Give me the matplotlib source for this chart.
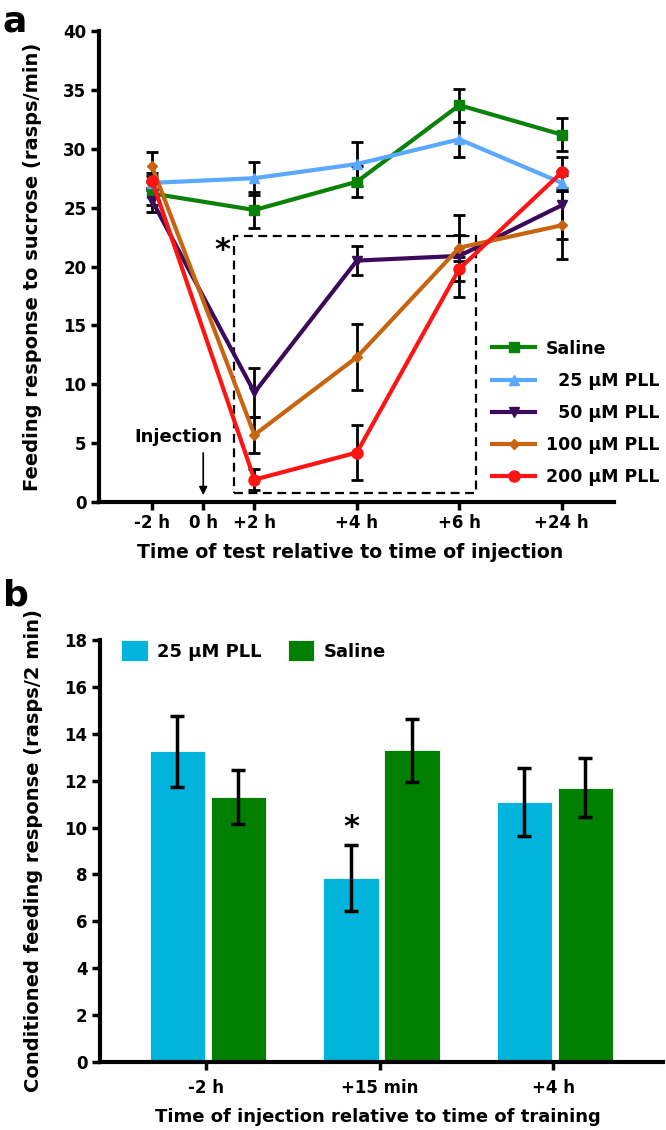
import matplotlib
matplotlib.use('Agg')
import matplotlib.pyplot as plt
from matplotlib.patches import Rectangle
import numpy as np

plt.rcParams['font.family'] = ['DejaVu Sans']
plt.rcParams['font.weight'] = 'bold'
plt.rcParams['axes.labelweight'] = 'bold'

# panel a data
time_labels = ['-2 h', '0 h', '+2 h', '+4 h', '+6 h', '+24 h']
time_pos = [0, 1, 2, 4, 6, 8]
meas_pos = [0, 2, 4, 6, 8]

saline = [26.2, 24.8, 27.2, 33.7, 31.2]
saline_err = [1.0, 1.5, 1.3, 1.4, 1.4]
pll25 = [27.1, 27.5, 28.7, 30.8, 27.1]
pll25_err = [0.6, 1.4, 1.9, 1.5, 0.7]
pll50 = [25.6, 9.3, 20.5, 20.9, 25.2]
pll50_err = [1.0, 2.1, 1.2, 3.5, 2.9]
pll100 = [28.5, 5.7, 12.3, 21.6, 23.5]
pll100_err = [1.2, 1.5, 2.8, 1.1, 2.9]
pll200 = [27.3, 1.9, 4.2, 19.8, 28.0]
pll200_err = [0.6, 0.9, 2.3, 1.0, 1.3]

series_names = ['Saline', '\u200725 µM PLL', '\u200750 µM PLL', '100 µM PLL', '200 µM PLL']
series_vals = [saline, pll25, pll50, pll100, pll200]
series_errs = [saline_err, pll25_err, pll50_err, pll100_err, pll200_err]
colors = ['#0a820a', '#5aa8ff', '#3c0a5a', '#c8640f', '#ff1414']
markers = ['s', '^', 'v', 'D', 'o']
msizes = [7, 7, 7, 5, 8]

# panel b data
groups = ['-2 h', '+15 min', '+4 h']
bar_pll = [13.25, 7.85, 11.1]
bar_pll_err = [1.5, 1.4, 1.45]
bar_sal = [11.3, 13.3, 11.7]
bar_sal_err = [1.15, 1.35, 1.25]

fig = plt.figure(figsize=(6.66, 11.3), dpi=100)

# ---- panel a ----
ax = fig.add_axes([99/666, 1-502/1130, 515/666, 471/1130])
for vals, errs, c, m, ms, name in zip(series_vals, series_errs, colors, markers, msizes, series_names):
    ax.errorbar(meas_pos, vals, yerr=errs, fmt='none', ecolor='black',
                elinewidth=2, capsize=4.5, capthick=2, zorder=2)
    ax.plot(meas_pos, vals, color=c, marker=m, markersize=ms, lw=3,
            label=name, zorder=3)

ax.set_xlim(-1.035, 9.02)
ax.set_ylim(0, 40)
ax.set_yticks(np.arange(0, 41, 5))
ax.set_xticks(time_pos)
ax.set_xticklabels(time_labels)
for s in ['top', 'right']:
    ax.spines[s].set_visible(False)
for s in ['left', 'bottom']:
    ax.spines[s].set_linewidth(3)
ax.tick_params(width=2.5, length=6, labelsize=12, pad=3)

ax.add_patch(Rectangle((1.61, 0.75), 6.32-1.61, 22.6-0.75, fill=False,
                       ls=(0, (4, 2.5)), lw=1.6, ec='black', zorder=1))
ax.text(1.37, 21.4, '*', fontsize=22, ha='center', va='center')
ax.text(0.52, 5.5, 'Injection', fontsize=13, ha='center', va='center')
ax.annotate('', xy=(1, 0.35), xytext=(1, 4.4),
            arrowprops=dict(arrowstyle='-|>', lw=1.2, color='black', mutation_scale=12))

ax.set_ylabel('Feeding response to sucrose (rasps/min)', fontsize=14)
ax.yaxis.set_label_coords(-0.111, 0.5)
ax.text(0.487, -0.107, 'Time of test relative to time of injection', fontsize=13.6,
        ha='center', va='center', transform=ax.transAxes)
ax.legend(loc='upper left', bbox_to_anchor=(0.763, 0.345), frameon=False,
          fontsize=12.5, handlelength=2.5, handletextpad=0.62, labelspacing=0.82,
          borderaxespad=0, borderpad=0)

fig.text(0.004, 0.996, 'a', fontsize=26, fontweight='bold', va='top')

# ---- panel b ----
bx = fig.add_axes([100/666, 1-1062/1130, 563/666, 422/1130])
x = np.arange(len(groups))
w = 0.32
bx.bar(x - 0.165, bar_pll, w, color='#00b4dc', edgecolor='white', lw=0.6,
       label='25 µM PLL', zorder=2)
bx.bar(x + 0.186, bar_sal, w, color='#007f00', edgecolor='white', lw=0.6,
       label='Saline', zorder=2)
bx.errorbar(x - 0.165, bar_pll, yerr=bar_pll_err, fmt='none', ecolor='black',
            elinewidth=2.5, capsize=5, capthick=2.5, zorder=3)
bx.errorbar(x + 0.186, bar_sal, yerr=bar_sal_err, fmt='none', ecolor='black',
            elinewidth=2.5, capsize=5, capthick=2.5, zorder=3)
bx.text(1 - 0.165, 10.0, '*', fontsize=22, ha='center', va='center')

bx.set_xlim(-0.611, 2.634)
bx.set_ylim(0, 18)
bx.set_yticks(np.arange(0, 19, 2))
bx.set_xticks(x)
bx.set_xticklabels(groups)
for s in ['top', 'right']:
    bx.spines[s].set_visible(False)
for s in ['left', 'bottom']:
    bx.spines[s].set_linewidth(3)
bx.tick_params(width=2.5, length=6, labelsize=12, pad=3)
bx.tick_params(axis='x', pad=6)
bx.set_ylabel('Conditioned feeding response (rasps/2 min)', fontsize=14)
bx.yaxis.set_label_coords(-0.101, 0.5)
bx.text(0.494, -0.130, 'Time of injection relative to time of training', fontsize=13,
        ha='center', va='center', transform=bx.transAxes)
bx.legend(loc='upper left', bbox_to_anchor=(0.038, 1.0), frameon=False, ncol=2,
          fontsize=13, handlelength=1.45, handleheight=1.45, handletextpad=0.5,
          columnspacing=1.5, borderaxespad=0, borderpad=0)

fig.text(0.004, 1-578/1130, 'b', fontsize=26, fontweight='bold', va='top')

fig.savefig('out.png', dpi=100)
